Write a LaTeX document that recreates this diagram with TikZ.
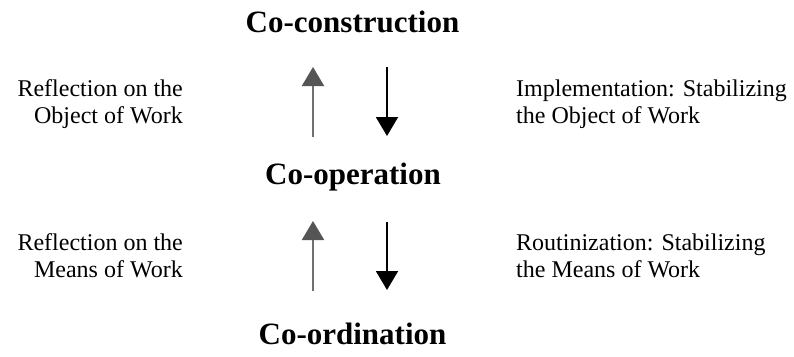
\documentclass[tikz,border=0pt]{standalone}
\usepackage{fontspec}
\setmainfont{Liberation Serif}
\usetikzlibrary{arrows.meta}
\definecolor{upshaft}{RGB}{112,112,112}
\definecolor{uphead}{RGB}{85,85,85}
\tikzset{
  level/.style={font=\fontsize{31}{35}\selectfont\bfseries, inner sep=0pt, anchor=base},
  leftlabel/.style={font=\fontsize{24}{27}\selectfont, align=right, inner sep=0pt, anchor=base east},
  rightlabel/.style={font=\fontsize{24}{27}\selectfont, align=left, inner sep=0pt, anchor=base west},
  uparrow/.style={draw=upshaft, line width=2pt,
    -{Triangle[width=22pt, length=19pt, color=uphead]}},
  downarrow/.style={draw=black, line width=2pt,
    -{Triangle[width=22pt, length=19pt]}},
}
\begin{document}
\begin{tikzpicture}[x=1pt, y=-1pt]
\useasboundingbox (0,0) rectangle (794,356);

% the three levels
\node[level] (coconstr) at (352.5,32) {Co-construction};
\node[level] (coop) at (353,184) {Co-operation};
\node[level] (coord) at (352.5,344) {Co-ordination};

% upper transitions (labels anchored on their last line)
\coordinate (u1s) at (313,137);
\coordinate (u1e) at (313,67);
\coordinate (d1s) at (387,67);
\coordinate (d1e) at (387,136);
\draw[uparrow] (u1s) -- (u1e);
\draw[downarrow] (d1s) -- (d1e);
\node[leftlabel] (reflobj) at (183,123) {Reflection on the\\Object of Work};
\node[rightlabel] (implobj) at (516,123) {Implementation: Stabilizing\\the Object of Work};

% lower transitions
\coordinate (u2s) at (313,291);
\coordinate (u2e) at (313,221);
\coordinate (d2s) at (387,222);
\coordinate (d2e) at (387,290);
\draw[uparrow] (u2s) -- (u2e);
\draw[downarrow] (d2s) -- (d2e);
\node[leftlabel] (reflmeans) at (183,277) {Reflection on the\\Means of Work};
\node[rightlabel] (routmeans) at (516,277) {Routinization: Stabilizing\\the Means of Work};
\end{tikzpicture}
\end{document}
